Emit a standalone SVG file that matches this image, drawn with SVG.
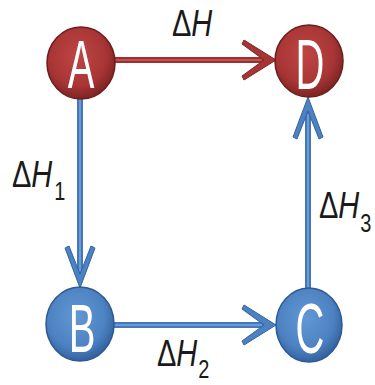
<svg xmlns="http://www.w3.org/2000/svg" xmlns:xlink="http://www.w3.org/1999/xlink" width="375" height="385" viewBox="0 0 375 385">
<defs>
<radialGradient id="gRed" cx="0.45" cy="0.4" r="0.6">
<stop offset="0" stop-color="#BF4545"/>
<stop offset="0.7" stop-color="#A83535"/>
<stop offset="1" stop-color="#7E2424"/>
</radialGradient>
<radialGradient id="gBlue" cx="0.45" cy="0.4" r="0.6">
<stop offset="0" stop-color="#6398D6"/>
<stop offset="0.7" stop-color="#4D82C2"/>
<stop offset="1" stop-color="#33639E"/>
</radialGradient>
<path id="headH" d="M0,0 L-32,-20 L-34,-16 L-12,0 L-34,16 L-32,20 Z"/>
<path id="headV" d="M0,0 L-15,-40 L-11,-42 L0,-14 L11,-42 L15,-40 Z"/>
</defs>
<style>
.red-line{stroke:#9C3030;stroke-width:6;fill:none}
.red-core{stroke:#C35050;stroke-width:2;fill:none}
.blue-line{stroke:#4478B8;stroke-width:6;fill:none}
.blue-core{stroke:#6A9BD6;stroke-width:2;fill:none}
.red-head{fill:#A83535;stroke:#7E2424;stroke-width:1}
.blue-head{fill:#4D82C2;stroke:#33639E;stroke-width:1}
.red-node{fill:url(#gRed);stroke:#6E1C1C;stroke-width:1.5}
.blue-node{fill:url(#gBlue);stroke:#2D5A92;stroke-width:1.5}
.letter{font-family:"Liberation Sans",Arial,sans-serif;font-size:40px;fill:#FFFFFF;text-anchor:middle}
.lbl{font-family:"Liberation Sans",Arial,sans-serif;font-size:29px;fill:#1A1A1A}
.sub{font-size:20px}
.it{font-style:italic}
</style>
<g id="connectors">
<line class="red-line" x1="114" y1="60" x2="266" y2="60"/>
<line class="red-core" x1="114" y1="60" x2="262" y2="60"/>
<use xlink:href="#headH" class="red-head" transform="translate(276,60)"/>
<line class="blue-line" x1="80" y1="98" x2="80" y2="276"/>
<line class="blue-core" x1="80" y1="98" x2="80" y2="272"/>
<use xlink:href="#headV" class="blue-head" transform="translate(80,288)"/>
<line class="blue-line" x1="113" y1="325" x2="266" y2="325"/>
<line class="blue-core" x1="113" y1="325" x2="262" y2="325"/>
<use xlink:href="#headH" class="blue-head" transform="translate(276,325)"/>
<line class="blue-line" x1="308" y1="289" x2="308" y2="110"/>
<line class="blue-core" x1="308" y1="289" x2="308" y2="114"/>
<use xlink:href="#headV" class="blue-head" transform="translate(308,97) rotate(180)"/>
</g>
<g id="label-dH">
<text class="lbl" transform="translate(172,36) scale(1,1.3)">Δ<tspan class="it">H</tspan></text>
</g>
<g id="label-dH1">
<text class="lbl" transform="translate(12,187) scale(1,1.3)">Δ<tspan class="it">H</tspan><tspan class="sub" dy="10" dx="2">1</tspan></text>
</g>
<g id="label-dH3">
<text class="lbl" transform="translate(319,218) scale(1,1.3)">Δ<tspan class="it">H</tspan><tspan class="sub" dy="11" dx="1">3</tspan></text>
</g>
<g id="label-dH2">
<text class="lbl" transform="translate(157,366) scale(1,1.3)">Δ<tspan class="it">H</tspan><tspan class="sub" dy="9.5" dx="1">2</tspan></text>
</g>
<g id="node-A">
<ellipse class="red-node" cx="81" cy="63" rx="34" ry="36"/>
<text class="letter" transform="translate(81,88) scale(1,1.7)">A</text>
</g>
<g id="node-D">
<ellipse class="red-node" cx="309" cy="61" rx="34" ry="36"/>
<text class="letter" transform="translate(310,89) scale(1,1.75)">D</text>
</g>
<g id="node-B">
<ellipse class="blue-node" cx="80" cy="324" rx="34" ry="37"/>
<text class="letter" transform="translate(82,352) scale(1,1.72)">B</text>
</g>
<g id="node-C">
<ellipse class="blue-node" cx="309" cy="325" rx="33" ry="37"/>
<text class="letter" transform="translate(310,353) scale(1,1.75)">C</text>
</g>
</svg>
